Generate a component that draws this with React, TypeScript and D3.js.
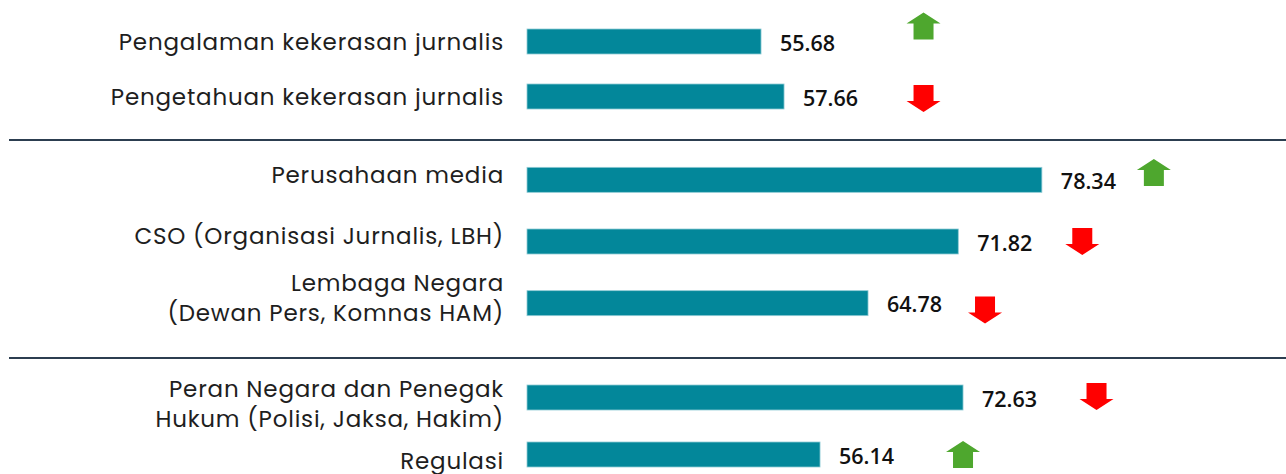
import React from 'react';
import * as d3 from 'd3';

// ---- data ----
const categories: string[] = [
  'Pengalaman kekerasan jurnalis',
  'Pengetahuan kekerasan jurnalis',
  'Perusahaan media',
  'CSO (Organisasi Jurnalis, LBH)',
  'Lembaga Negara\n(Dewan Pers, Komnas HAM)',
  'Peran Negara dan Penegak\nHukum (Polisi, Jaksa, Hakim)',
  'Regulasi',
];
const values: number[] = [55.68, 57.66, 78.34, 71.82, 64.78, 72.63, 56.14];
const trends: string[] = ['up', 'down', 'up', 'down', 'down', 'down', 'up'];
const sections: number[] = [0, 0, 1, 1, 1, 2, 2];
// each section was drawn as its own chart with its own value axis
const sectionDomains: [number, number][] = [
  [35.54, 95.78],
  [38.18, 92.78],
  [22.35, 103.07],
];

// ---- layout ----
const W = 1286;
const H = 474;
const X0 = 527;
const X1 = 1227;
const sectionRanges: [number, number][] = [
  [14, 124],
  [149, 334],
  [369, 483],
];
const separators = [140, 358];
const labelShift = [0, -5.5, 6];
const arrowDx = [162.5, 139.5, 112, 124, 117, 133.5, 143];
const arrowDy = [-15.5, 2, -7.3, 0, 6.8, -1, 0];
const BAR_H = 25;

const BAR_COLOR = '#03879a';
const UP_COLOR = '#4ea72e';
const DOWN_COLOR = '#ff0000';

function arrowPath(cx: number, cy: number, up: boolean): string {
  const w = 17, h = 13.5, head = 11, shaft = 10;
  const top = cy - h, bot = cy + h;
  const pts: [number, number][] = up
    ? [
        [cx, top], [cx + w, top + head], [cx + shaft, top + head], [cx + shaft, bot],
        [cx - shaft, bot], [cx - shaft, top + head], [cx - w, top + head],
      ]
    : [
        [cx, bot], [cx + w, bot - head], [cx + shaft, bot - head], [cx + shaft, top],
        [cx - shaft, top], [cx - shaft, bot - head], [cx - w, bot - head],
      ];
  return (d3.line()(pts) || '') + 'Z';
}

export default function App() {
  const xScales = sectionDomains.map((dom) =>
    d3.scaleLinear().domain(dom).range([X0, X1])
  );
  const yScales = sectionRanges.map((rng, s) => {
    const idx = sections.map((g, i) => (g === s ? i : -1)).filter((i) => i >= 0);
    return d3.scalePoint<number>().domain(idx).range(rng).padding(0.5);
  });

  return (
    <svg
      width={W}
      height={H}
      style={{ position: 'absolute', left: 0, top: 0, background: '#fff' }}
    >
      {separators.map((y, i) => (
        <line key={'sep' + i} x1={9} x2={W} y1={y} y2={y} stroke="#2c3e50" strokeWidth={2} />
      ))}
      {values.map((v, i) => {
        const s = sections[i];
        const x = xScales[s];
        const cy = yScales[s](i) as number;
        const xEnd = x(v);
        const lines = categories[i].split('\n');
        const lc = cy + labelShift[s];
        const up = trends[i] === 'up';
        return (
          <g key={i}>
            <rect
              x={X0}
              y={cy - BAR_H / 2}
              width={xEnd - X0}
              height={BAR_H}
              fill={BAR_COLOR}
              stroke="#8fcbd5"
              strokeWidth={0.8}
            />
            <text
              textAnchor="end"
              fontFamily="Poppins, 'Open Sans', sans-serif"
              fontSize={23}
              letterSpacing={0.8}
              fill="#1e1e1e"
            >
              {lines.map((ln, j) => (
                <tspan key={j} x={504} y={lc + (j - (lines.length - 1) / 2) * 30} dy="0.36em">
                  {ln}
                </tspan>
              ))}
            </text>
            <text
              x={xEnd + 19}
              y={cy + 1.5}
              dy="0.36em"
              fontFamily="'Segoe UI', 'Open Sans', sans-serif"
              fontWeight={600}
              fontSize={21.5}
              fill="#111"
            >
              {v.toFixed(2)}
            </text>
            <path
              d={arrowPath(xEnd + arrowDx[i], cy + arrowDy[i], up)}
              fill={up ? UP_COLOR : DOWN_COLOR}
            />
          </g>
        );
      })}
    </svg>
  );
}
